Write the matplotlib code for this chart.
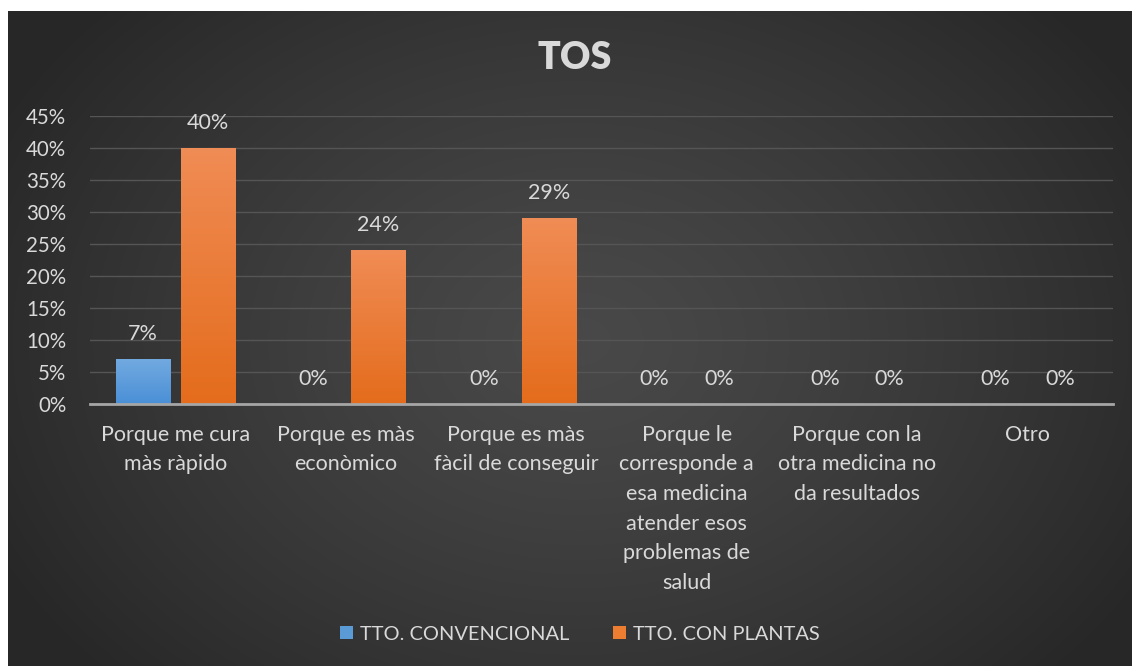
import numpy as np
import matplotlib
matplotlib.use("Agg")
import matplotlib.pyplot as plt
from matplotlib.patches import Patch
from matplotlib.colors import LinearSegmentedColormap

plt.rcParams["font.family"] = ["Lato", "DejaVu Sans"]

categories = [
    "Porque me cura\nmàs ràpido",
    "Porque es màs\neconòmico",
    "Porque es màs\nfàcil de conseguir",
    "Porque le\ncorresponde a\nesa medicina\natender esos\nproblemas de\nsalud",
    "Porque con la\notra medicina no\nda resultados",
    "Otro",
]
convencional = [0.07, 0.0, 0.0, 0.0, 0.0, 0.0]
con_plantas = [0.40, 0.24, 0.29, 0.0, 0.0, 0.0]
series_names = ["TTO. CONVENCIONAL", "TTO. CON PLANTAS"]
yticks = [0, 0.05, 0.10, 0.15, 0.20, 0.25, 0.30, 0.35, 0.40, 0.45]

TEXT = "#d9d9d9"
W, H = 1132, 666

fig = plt.figure(figsize=(W / 100, H / 100), dpi=100, facecolor="white")

# dark radial-gradient background
bg = fig.add_axes([8 / W, 0, (W - 8) / W, (H - 11) / H], zorder=0)
yy, xx = np.mgrid[0:655, 0:1124]
r = np.hypot((xx - 570) / 1.0, (yy - 330) / 0.75)
v = np.clip(r / 650, 0, 1)
shade = 0.285 - 0.13 * v ** 1.3
bg.imshow(np.dstack([shade] * 3), aspect="auto", extent=[0, 1, 0, 1])
bg.set_axis_off()

ax = fig.add_axes([90 / W, 1 - 404 / H, (1113 - 90) / W, (404 - 116) / H], zorder=1)
ax.patch.set_alpha(0)

x = np.arange(len(categories))
bw = 0.317
off = 0.19

blue_cmap = LinearSegmentedColormap.from_list("b", ["#4a8fd6", "#72aae0"])
orange_cmap = LinearSegmentedColormap.from_list("o", ["#e46c1c", "#f08c55"])

grad = np.linspace(0, 1, 256).reshape(-1, 1)
for vals, xs, cmap in [(convencional, x - off, blue_cmap), (con_plantas, x + off, orange_cmap)]:
    bars = ax.bar(xs, vals, width=bw, color="none", zorder=3)
    for b, val in zip(bars, vals):
        if val > 0:
            im = ax.imshow(grad, cmap=cmap, origin="lower", aspect="auto",
                           extent=[b.get_x(), b.get_x() + bw, 0, val], zorder=3)
            im.set_clip_path(b)
        ax.annotate(f"{val * 100:.0f}%", (b.get_x() + bw / 2, val),
                    xytext=(0, 18), textcoords="offset points",
                    ha="center", va="center", color=TEXT, fontsize=15.5)

ax.set_xlim(-0.5, len(categories) - 0.5)
ax.set_ylim(0, 0.45)
ax.set_yticks(yticks)
ax.set_yticklabels([f"{t * 100:.0f}%" for t in yticks])
ax.set_xticks(x)
ax.set_xticklabels(categories, linespacing=1.6, va="top", fontsize=15.5)
ax.tick_params(axis="both", length=0, colors=TEXT)
ax.tick_params(axis="y", pad=17, labelsize=14.8)
ax.tick_params(axis="x", pad=15)
ax.grid(axis="y", color="#555555", linewidth=1)
ax.set_axisbelow(True)
for s in ["top", "right", "left"]:
    ax.spines[s].set_visible(False)
ax.spines["bottom"].set_color("#a6a6a6")
ax.spines["bottom"].set_linewidth(2)
ax.spines["bottom"].set_zorder(4)

fig.text(575 / W, 1 - 58 / H, "TOS", ha="center", va="center",
         color=TEXT, fontsize=27, fontweight="heavy")

handles = [Patch(facecolor="#5b9bd5"), Patch(facecolor="#ed7d31")]
leg = fig.legend(handles, series_names, loc="center", ncol=2,
                 bbox_to_anchor=(580 / W, 1 - 634 / H), frameon=False,
                 handlelength=0.65, handleheight=0.65, handletextpad=0.35,
                 columnspacing=2.2, fontsize=14.4)
for t in leg.get_texts():
    t.set_color(TEXT)

fig.savefig("out.png", dpi=100, facecolor="white")
